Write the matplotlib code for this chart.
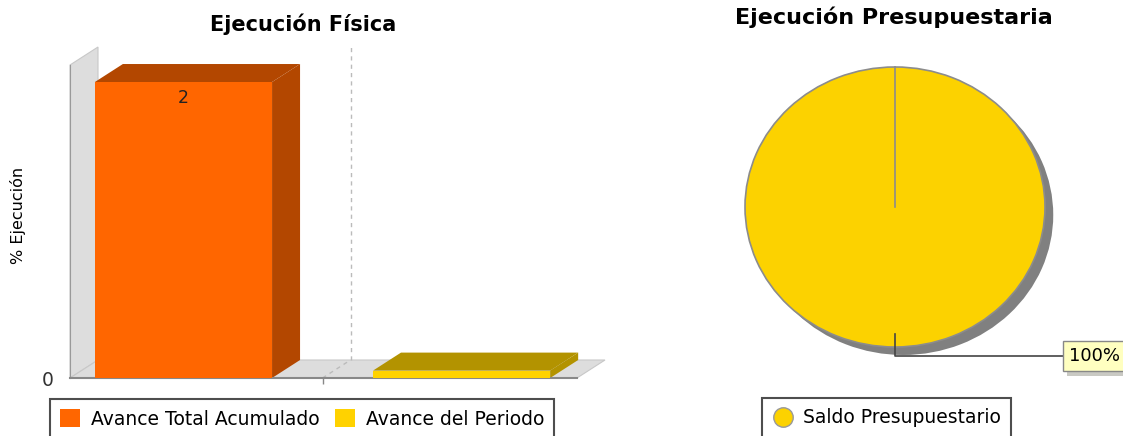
import numpy as np
import matplotlib
matplotlib.use('Agg')
import matplotlib.pyplot as plt
from matplotlib.patches import Polygon, Patch
from matplotlib.lines import Line2D
import matplotlib.patheffects as pe

# Data
series_names = ['Avance Total Acumulado', 'Avance del Periodo']
series_values = [2, 0.05]
bar_labels = ['2', '']
pie_names = ['Saldo Presupuestario']
pie_values = [100]

# Styles
W, H = 1123, 436
front_colors = ['#FF6600', '#FFD200']
pie_color = '#FCD200'
wall_color = '#DDDDDD'


def px_rect(left, top, right, bottom):
    """Turn a pixel box (origin top-left) into a figure fraction rect"""
    return [left / W, 1 - bottom / H, (right - left) / W, (bottom - top) / H]


def darker(hex_color, f=0.7):
    rgb = np.array(matplotlib.colors.to_rgb(hex_color))
    return tuple(rgb * f)


fig = plt.figure(figsize=(W / 100, H / 100), dpi=100)

# ---------------- 3D-looking bar chart ----------------
ax = fig.add_axes(px_rect(70, 65, 577, 378))
x0, x1 = -0.408, 1.415
y0, y1 = 0, 2.115
ax.set_xlim(x0, x1)
ax.set_ylim(y0, y1)
ax.set_autoscale_on(False)

# depth offset of the fake 3D, in data units (28 px right, 18 px up)
DX = 28 * (x1 - x0) / 507
DY = 18 * (y1 - y0) / 313

wall_kw = dict(facecolor=wall_color, edgecolor='#C8C8C8', lw=0.8, clip_on=False, zorder=0)
ax.add_patch(Polygon([(x0, 0), (x0 + DX, DY), (x0 + DX, y1 + DY), (x0, y1)], **wall_kw))
ax.add_patch(Polygon([(x0, 0), (x1, 0), (x1 + DX, DY), (x0 + DX, DY)], **wall_kw))

xs = np.arange(len(series_values))
cat_center = xs.mean()
ax.plot([cat_center + DX] * 2, [DY, y1 + DY], ls=(0, (3, 3)), color='#BBBBBB', lw=1,
        clip_on=False, zorder=1)
ax.plot([cat_center, cat_center + DX], [0, DY], ls=(0, (3, 3)), color='#BBBBBB', lw=1,
        clip_on=False, zorder=1)

bars = ax.bar(xs, series_values, width=0.637, color=front_colors, zorder=3, clip_on=False)
for b, c in zip(bars.patches, front_colors):
    bx, bw, bh = b.get_x(), b.get_width(), b.get_height()
    shade = darker(c)
    side = [(bx + bw, 0), (bx + bw + DX, DY), (bx + bw + DX, bh + DY), (bx + bw, bh)]
    top = [(bx, bh), (bx + DX, bh + DY), (bx + bw + DX, bh + DY), (bx + bw, bh)]
    ax.add_patch(Polygon(side, facecolor=shade, edgecolor='none', clip_on=False, zorder=2))
    ax.add_patch(Polygon(top, facecolor=shade, edgecolor='none', clip_on=False, zorder=2))

ax.bar_label(bars, labels=bar_labels, padding=-18, fontsize=12.5, color='#222222')

ax.set_yticks([0])
ax.set_yticklabels(['0'])
ax.tick_params(axis='y', length=0, pad=12, labelsize=13.5, labelcolor='#333333')
ax.set_xticks([cat_center])
ax.set_xticklabels([''])
ax.tick_params(axis='x', length=4, width=1, color='#888888')
for s in ['top', 'right']:
    ax.spines[s].set_visible(False)
ax.spines['left'].set_color('#999999')
ax.spines['bottom'].set_color('#888888')
ax.spines['bottom'].set_linewidth(1.5)
ax.set_facecolor('none')

fig.text(303 / W, 1 - 24 / H, 'Ejecución Física', ha='center', va='center',
         fontsize=15, fontweight='bold')
fig.text(18 / W, 1 - 215 / H, '% Ejecución', rotation=90, ha='center', va='center',
         fontsize=11.5)

handles = [Patch(facecolor=c, edgecolor='none') for c in front_colors]
leg = fig.legend(handles, series_names, loc='upper left', bbox_to_anchor=(50 / W, 1 - 399 / H),
                 ncol=2, frameon=True, fancybox=False, edgecolor='#222222', fontsize=13.5,
                 handlelength=1.07, handleheight=1.07, handletextpad=0.55, columnspacing=0.85,
                 borderpad=0.55, borderaxespad=0)
leg.get_frame().set_linewidth(1.5)

# ---------------- pie chart ----------------
ax2 = fig.add_axes(px_rect(670, -3, 1120, 417))
# shadow first, slightly offset
ax2.pie(pie_values, colors=['#808080'], center=(0.055, -0.057), startangle=90,
        counterclock=False)
wedges, _ = ax2.pie(pie_values, colors=[pie_color], startangle=90, counterclock=False,
                    wedgeprops=dict(edgecolor='#8C8C8C', linewidth=1.2))
ax2.set_aspect('auto')
ax2.set_xlim(-1.5, 1.5)
ax2.set_ylim(-1.5, 1.5)
ax2.axis('off')

for w, v in zip(wedges, pie_values):
    # slice border from the centre to where the slice starts
    start = np.deg2rad(w.theta2)
    ax2.plot([0, np.cos(start)], [0, np.sin(start)], color='#8C8C8C', lw=1.2, zorder=4)
    mid = np.deg2rad((w.theta1 + w.theta2) / 2)
    px, py = np.cos(mid), np.sin(mid)
    ax2.plot([0.91 * px, 1.065 * px, 1.12], [0.91 * py, 1.065 * py, 1.065 * py],
             color='#444444', lw=1.2, clip_on=False, zorder=5)
    ax2.text(1.12 + 0.04, 1.065 * py, f'{v / sum(pie_values) * 100:.0f}%', ha='left',
             va='center', fontsize=13, clip_on=False, zorder=6,
             bbox=dict(boxstyle='square,pad=0.35', facecolor='#FFFFC0', edgecolor='#888888',
                       path_effects=[pe.withSimplePatchShadow(offset=(3, -3), alpha=0.3)]))

fig.text(894 / W, 1 - 17 / H, 'Ejecución Presupuestaria', ha='center', va='center',
         fontsize=16, fontweight='bold')

pie_handles = [Line2D([], [], ls='', marker='o', markersize=14, markerfacecolor=pie_color,
                      markeredgecolor='#999999')]
leg2 = fig.legend(pie_handles, pie_names, loc='upper left', bbox_to_anchor=(762 / W, 1 - 398 / H),
                  frameon=True, fancybox=False, edgecolor='#222222', fontsize=13.5,
                  handlelength=1.1, handletextpad=0.55, borderpad=0.55, borderaxespad=0)
leg2.get_frame().set_linewidth(1.5)

fig.savefig('out.png', dpi=100)
